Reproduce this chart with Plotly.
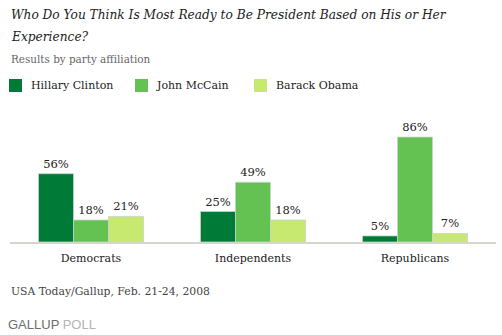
import plotly.graph_objects as go

categories = ["Democrats", "Independents", "Republicans"]
series_names = ["Hillary Clinton", "John McCain", "Barack Obama"]
clinton = [56, 25, 5]
mccain = [18, 49, 86]
obama = [21, 18, 7]
values = [clinton, mccain, obama]
colors = ["#007a37", "#64c253", "#c7e970"]

W, H = 502, 335
ML, MR, MT, MB = 10, 6, 120, 93
PW, PH = W - ML - MR, H - MT - MB

def px(x):
    return (x - ML) / PW

def py(y):
    return (H - MB - y) / PH

SERIF = "DejaVu Serif"

fig = go.Figure()
for name, vals, col in zip(series_names, values, colors):
    fig.add_trace(go.Bar(
        x=categories, y=vals, name=name,
        marker=dict(color=col, line=dict(color="rgba(200,210,200,0.8)", width=1)),
        text=[f"{v}%" for v in vals], textposition="outside",
        textfont=dict(family=SERIF, size=11.5, color="#222"),
        cliponaxis=False, showlegend=False,
    ))

shapes = []
annotations = []
# legend
leg_x = [9, 135, 254]
leg_tx = [29, 154, 274]
for name, col, sx, tx in zip(series_names, colors, leg_x, leg_tx):
    shapes.append(dict(type="rect", xref="paper", yref="paper",
                       x0=px(sx), x1=px(sx + 13), y0=py(92), y1=py(79),
                       fillcolor=col, line=dict(width=0)))
    annotations.append(dict(text=name, xref="paper", yref="paper", x=px(tx), y=py(85.5),
                            xanchor="left", yanchor="middle", showarrow=False,
                            font=dict(family=SERIF, size=11, color="#222")))

title_lines = ["Who Do You Think Is Most Ready to Be President Based on His or Her",
               "Experience?"]
for line, cy in zip(title_lines, [14.5, 36.5]):
    annotations.append(dict(text=f"<i>{line}</i>", xref="paper", yref="paper", x=px(9), y=py(cy),
                            xanchor="left", yanchor="middle", showarrow=False,
                            font=dict(family=SERIF, size=12.2, color="#222")))

annotations += [
    dict(text="Results by party affiliation", xref="paper", yref="paper", x=px(9), y=py(59),
         xanchor="left", yanchor="middle", showarrow=False,
         font=dict(family=SERIF, size=10.4, color="#666")),
    dict(text="USA Today/Gallup, Feb. 21-24, 2008", xref="paper", yref="paper", x=px(9), y=py(291),
         xanchor="left", yanchor="middle", showarrow=False,
         font=dict(family=SERIF, size=10.8, color="#444")),
    dict(text="<span style='color:#6d6d6d'>GALLUP</span> <span style='color:#b4b4b4'>POLL</span>",
         xref="paper", yref="paper", x=px(6), y=py(324), xanchor="left", yanchor="middle",
         showarrow=False, font=dict(family="Liberation Sans", size=13)),
]

fig.update_layout(
    width=W, height=H, margin=dict(l=ML, r=MR, t=MT, b=MB),
    paper_bgcolor="white", plot_bgcolor="white",
    barmode="group", bargap=0.352, bargroupgap=0,
    shapes=shapes, annotations=annotations,
    xaxis=dict(showline=True, linecolor="#d6d6ce", linewidth=2, ticks="",
               ticklabelstandoff=5,
               tickfont=dict(family=SERIF, size=11, color="#222"), fixedrange=True),
    yaxis=dict(range=[0, 100], visible=False, fixedrange=True),
)

fig.write_html("out.html")
